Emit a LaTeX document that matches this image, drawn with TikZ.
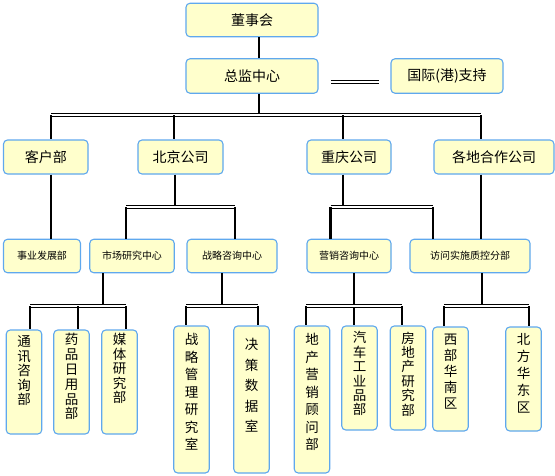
\documentclass[tikz,border=0pt]{standalone}
\usepackage{fontspec}
\setmainfont{Noto Sans CJK SC}
\usetikzlibrary{calc}

\definecolor{boxfill}{HTML}{FFFFCC}
\definecolor{boxline}{RGB}{95,168,238}

\tikzset{
  box/.style={draw=boxline, fill=boxfill, line width=1.1pt, rounded corners=4pt,
    inner sep=0pt, font=\fontsize{14}{16}\selectfont},
  subbox/.style={box, font=\fontsize{10}{11}\selectfont},
  vbox/.style={box, minimum width=35.5},
  vtext/.style={anchor=north, inner sep=0pt, align=center, font=\fontsize{13.5}{#1}\selectfont},
  stem/.style={line width=2.6pt},
  bus/.style={double, double distance=1.2pt, line width=1.1pt},
}

\begin{document}
\begin{tikzpicture}[x=1pt, y=-1pt]
  \useasboundingbox (0,0) rectangle (555,475);

  % top level
  \node[box, minimum width=132, minimum height=33.5] (board) at (252,20) {董事会};
  \node[box, minimum width=132, minimum height=34.5] (director) at (252,76) {总监中心};
  \node[box, minimum width=112, minimum height=34.5] (intl) at (447,76) {国际(港)支持};

  % companies
  \node[box, minimum width=84.5, minimum height=34] (kehu) at (45.75,157) {客户部};
  \node[box, minimum width=85, minimum height=34] (beijing) at (180.5,157) {北京公司};
  \node[box, minimum width=84, minimum height=34] (chongqing) at (349,157) {重庆公司};
  \node[box, minimum width=120, minimum height=34] (gedi) at (494,157) {各地合作公司};

  % centres
  \node[subbox, minimum width=77, minimum height=33.5] (shiye) at (42,256) {事业发展部};
  \node[subbox, minimum width=84.5, minimum height=33.5] (shichang) at (132,256) {市场研究中心};
  \node[subbox, minimum width=90, minimum height=33.5] (zhanlue) at (232,256) {战略咨询中心};
  \node[subbox, minimum width=84, minimum height=33.5] (yingxiao) at (349,256) {营销咨询中心};
  \node[subbox, minimum width=120, minimum height=33.5] (fangwen) at (470,256) {访问实施质控分部};

  % departments
  \node[vbox, minimum height=104] (tongxun) at (24,382) {};
  \node[vbox, minimum height=104] (yaopin) at (71.5,382) {};
  \node[vbox, minimum height=104] (meiti) at (119.5,382) {};
  \node[vbox, minimum height=147] (zlgl) at (191.5,399.5) {};
  \node[vbox, minimum height=147] (juece) at (251.5,399.5) {};
  \node[vbox, minimum height=147] (dichan) at (312,399.5) {};
  \node[vbox, minimum height=104] (qiche) at (359.5,378) {};
  \node[vbox, minimum height=104] (fangdi) at (408,378) {};
  \node[vbox, minimum height=104] (xibu) at (450.5,379) {};
  \node[vbox, minimum height=104] (beifang) at (523.5,379) {};

  \node[vtext=14.5] (tongxun-t) at ([yshift=-6pt]tongxun.north) {通\\讯\\咨\\询\\部};
  \node[vtext=14.8] (yaopin-t) at ([yshift=-4pt]yaopin.north) {药\\品\\日\\用\\品\\部};
  \node[vtext=14.5] (meiti-t) at ([yshift=-4pt]meiti.north) {媒\\体\\研\\究\\部};
  \node[vtext=17.5] (zlgl-t) at ([yshift=-8pt]zlgl.north) {战\\略\\管\\理\\研\\究\\室};
  \node[vtext=20.5] (juece-t) at ([yshift=-13pt]juece.north) {决\\策\\数\\据\\室};
  \node[vtext=17.5] (dichan-t) at ([yshift=-8pt]dichan.north) {地\\产\\营\\销\\顾\\问\\部};
  \node[vtext=14.4] (qiche-t) at ([yshift=-6pt]qiche.north) {汽\\车\\工\\业\\品\\部};
  \node[vtext=14.4] (fangdi-t) at ([yshift=-6pt]fangdi.north) {房\\地\\产\\研\\究\\部};
  \node[vtext=16] (xibu-t) at ([yshift=-7pt]xibu.north) {西\\部\\华\\南\\区};
  \node[vtext=17] (beifang-t) at ([yshift=-7pt]beifang.north) {北\\方\\华\\东\\区};

  % top links
  \draw[stem] (259,0 |- board.south) -- (259,0 |- director.north);
  \draw[stem] (259,0 |- director.south) -- (259,115);
  \draw[bus] ([xshift=12pt,yshift=-6pt]director.east) -- ([xshift=-11pt,yshift=-6pt]intl.west);
  \draw[bus] (51,115) -- (481,115);
  \foreach \n/\x in {kehu/51, beijing/174, chongqing/343, gedi/481}
    \draw[stem] (\x,115) -- (\x,0 |- \n.north);

  % companies to centres
  \draw[stem] (51,0 |- kehu.south) -- (51,0 |- shiye.north);
  \draw[stem] (481,0 |- gedi.south) -- (481,0 |- fangwen.north);
  \draw[stem] (175,0 |- beijing.south) -- (175,207);
  \draw[bus] (126,207) -- (235,207);
  \foreach \n/\x in {shichang/126, zhanlue/235}
    \draw[stem] (\x,207) -- (\x,0 |- \n.north);
  \draw[stem] (343,0 |- chongqing.south) -- (343,207);
  \draw[bus] (330.5,207) -- (433,207);
  \foreach \n/\x in {yingxiao/330.5, fangwen/433}
    \draw[stem] (\x,207) -- (\x,0 |- \n.north);

  % centres to departments
  \draw[stem] (103,0 |- shichang.south) -- (103,306);
  \draw[bus] (30,306) -- (126,306);
  \foreach \n/\x in {tongxun/30, yaopin/78, meiti/126}
    \draw[stem] (\x,306) -- (\x,0 |- \n.north);
  \draw[stem] (222,0 |- zhanlue.south) -- (222,306);
  \draw[bus] (186,306) -- (258,306);
  \foreach \n/\x in {zlgl/186, juece/258}
    \draw[stem] (\x,306) -- (\x,0 |- \n.north);
  \draw[stem] (354,0 |- yingxiao.south) -- (354,0 |- qiche.north);
  \draw[bus] (306,306) -- (402,306);
  \foreach \n/\x in {dichan/306, fangdi/402}
    \draw[stem] (\x,306) -- (\x,0 |- \n.north);
  \draw[stem] (482,0 |- fangwen.south) -- (482,306);
  \draw[bus] (444,306) -- (529,306);
  \foreach \n/\x in {xibu/444, beifang/529}
    \draw[stem] (\x,306) -- (\x,0 |- \n.north);
\end{tikzpicture}
\end{document}
